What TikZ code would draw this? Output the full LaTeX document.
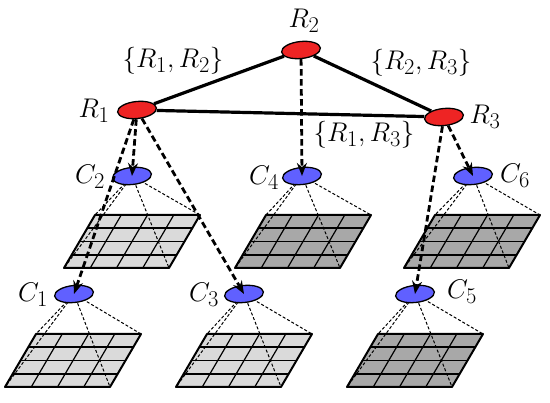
\documentclass[tikz,border=0pt]{standalone}
\usepackage{graphicx}
\usetikzlibrary{shapes.geometric,arrows.meta,backgrounds}
\definecolor{rfill}{RGB}{238,36,36}
\definecolor{bfill}{RGB}{96,96,255}
\definecolor{glight}{RGB}{218,218,218}
\definecolor{gdark}{RGB}{168,168,168}
\newcommand\lbl[1]{\scalebox{1.085}{$#1$}}
% grid: name, fill, x0, y0 (top-left corner)
\newcommand\gridat[4]{%
  \begin{scope}[shift={(#3,#4)}]
    \fill[#2] (0,0) -- (105,0) -- (74,53) -- (-31,53) -- cycle;
    \foreach \i in {1,2,3}{
      \draw[gridh] ({-31*\i/4},{53*\i/4}) -- ({105-31*\i/4},{53*\i/4});
      \draw[gridin] ({105*\i/4},0) -- ({105*\i/4-31},53);
    }
    \draw[gridout] (0,0) -- (105,0) -- (74,53) -- (-31,53) -- cycle;
    \coordinate (#1-tl) at (0,0);
    \coordinate (#1-tr) at (105,0);
    \coordinate (#1-br) at (74,53);
    \coordinate (#1-bl) at (-31,53);
  \end{scope}}
\tikzset{
  rnode/.style={ellipse, draw=black, line width=1.3pt, fill=rfill, minimum width=39pt, minimum height=17pt, inner sep=0pt, rotate=6},
  cnode/.style={ellipse, draw=black, line width=1.3pt, fill=bfill, minimum width=39pt, minimum height=17pt, inner sep=0pt, rotate=6},
  txt/.style={font=\fontsize{24.88}{30}\selectfont, inner sep=0pt},
  edge/.style={line width=3.2pt, black},
  arr/.style={line width=2.8pt, dash pattern=on 6.5pt off 3.5pt, -{Stealth[length=13pt,width=10pt]}},
  cone/.style={line width=1pt, dash pattern=on 3pt off 2pt},
  gridin/.style={line width=1.2pt, black},
  gridh/.style={line width=1.7pt, black},
  gridout/.style={line width=2pt, black, line join=round},
}
\begin{document}
\begin{tikzpicture}[x=1pt,y=-1pt]
\useasboundingbox (0,0) rectangle (550,403);
% nodes
\node[rnode] (R1) at (137,110) {};
\node[rnode] (R2) at (301,50) {};
\node[rnode] (R3) at (444,117) {};
\node[cnode] (C2) at (132,176) {};
\node[cnode] (C4) at (302,176) {};
\node[cnode] (C6) at (473,176) {};
\node[cnode] (C1) at (74,294) {};
\node[cnode] (C3) at (244,294) {};
\node[cnode] (C5) at (415,294) {};
% labels
\node[txt] (lR1) at (94,111) {\lbl{R_1}};
\node[txt] (lR2) at (304,21) {\lbl{R_2}};
\node[txt] (lR3) at (485,117) {\lbl{R_3}};
\node[txt] (l12) at (173,61) {\lbl{\{R_1,R_2\}}};
\node[txt] (l23) at (421,63) {\lbl{\{R_2,R_3\}}};
\node[txt] (l13) at (364,135) {\lbl{\{R_1,R_3\}}};
\node[txt] (lC1) at (33,295) {\lbl{C_1}};
\node[txt] (lC2) at (90,177) {\lbl{C_2}};
\node[txt] (lC3) at (204,295) {\lbl{C_3}};
\node[txt] (lC4) at (264,178) {\lbl{C_4}};
\node[txt] (lC5) at (462,292) {\lbl{C_5}};
\node[txt] (lC6) at (515,176) {\lbl{C_6}};
% grids and cones behind
\begin{pgfonlayer}{background}
  \gridat{g2}{glight}{95}{215}
  \gridat{g4}{gdark}{266}{215}
  \gridat{g6}{gdark}{435}{215}
  \gridat{g1}{glight}{36}{334}
  \gridat{g3}{glight}{207}{334}
  \gridat{g5}{gdark}{378}{334}
  \foreach \c/\g in {C1/g1,C2/g2,C3/g3,C4/g4,C5/g5,C6/g6}{
    \draw[cone] (\c.center) -- (\g-tl);
    \draw[cone] (\c.center) -- (\g-tr);
    \draw[cone] (\c.center) -- (\g-bl);
    \draw[cone] (\c.center) -- (\g-br);
  }
\end{pgfonlayer}
% edges
\draw[edge] (R1) -- (R2);
\draw[edge] (R2) -- (R3);
\draw[edge] (R1) -- (R3);
% dashed arrows
\draw[arr] (R1) -- (C2.center);
\draw[arr] (R1) -- (C1.center);
\draw[arr] (R1) -- (C3.center);
\draw[arr] (R2) -- (C4.center);
\draw[arr] (R3) -- (C6.center);
\draw[arr] (R3) -- (C5.center);
\end{tikzpicture}
\end{document}
